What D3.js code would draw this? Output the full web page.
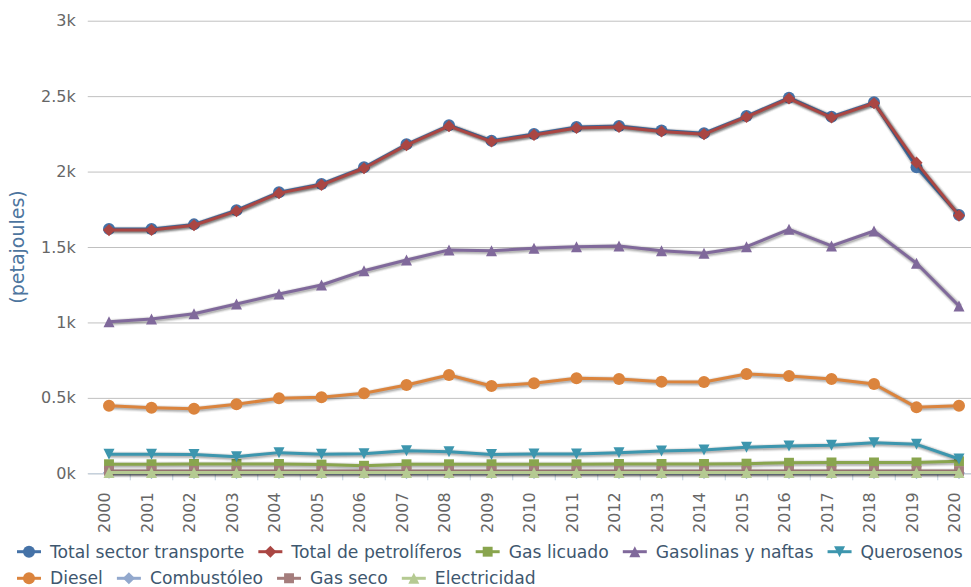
<!DOCTYPE html>
<html>
<head>
<meta charset="utf-8">
<script src="https://cdn.jsdelivr.net/npm/d3@7/dist/d3.min.js"></script>
<style>
  body { margin: 0; background: #fff; }
  svg { display: block; font-family: "DejaVu Sans", Verdana, sans-serif; }
</style>
</head>
<body>
<svg id="chart" width="971" height="587"></svg>
<script>
const years = ["2000", "2001", "2002", "2003", "2004", "2005", "2006", "2007", "2008", "2009", "2010",
  "2011", "2012", "2013", "2014", "2015", "2016", "2017", "2018", "2019", "2020"];

const yTicks = [0, 500, 1000, 1500, 2000, 2500, 3000];
const yTickLabels = ["0k", "0.5k", "1k", "1.5k", "2k", "2.5k", "3k"];

const totalTransporte = [1619, 1619, 1650, 1744, 1863, 1918, 2028, 2181, 2307, 2205, 2249, 2295, 2302, 2272, 2254, 2368, 2490, 2364, 2459, 2028, 1712];
const totalPetroliferos = [1612, 1613, 1644, 1738, 1857, 1912, 2022, 2175, 2301, 2199, 2243, 2289, 2296, 2266, 2248, 2362, 2484, 2358, 2453, 2059, 1708];
const gasLicuado = [60, 60, 62, 62, 62, 58, 50, 60, 60, 60, 60, 60, 62, 62, 62, 64, 70, 72, 72, 72, 80];
const gasolinas = [1005, 1023, 1058, 1122, 1188, 1248, 1343, 1414, 1480, 1475, 1491, 1502, 1507, 1475, 1458, 1502, 1617, 1507, 1606, 1392, 1109];
const querosenos = [126, 126, 125, 110, 137, 126, 130, 150, 143, 125, 128, 128, 137, 148, 155, 172, 181, 186, 203, 192, 95];
const diesel = [448, 435, 428, 457, 497, 504, 530, 585, 652, 579, 597, 630, 625, 607, 605, 658, 645, 625, 592, 437, 448];
const combustoleo = [4, 3, 3, 3, 3, 2, 2, 2, 2, 2, 2, 2, 2, 2, 2, 2, 2, 2, 2, 2, 2];
const gasSeco = [16, 16, 16, 16, 16, 16, 15, 15, 15, 15, 15, 15, 15, 15, 15, 15, 15, 15, 15, 15, 15];
const electricidad = [5, 5, 5, 5, 5, 5, 5, 5, 5, 5, 5, 5, 5, 5, 5, 5, 5, 5, 5, 5, 5];

const seriesNames = ["Total sector transporte", "Total de petrolíferos", "Gas licuado", "Gasolinas y naftas",
  "Querosenos", "Diesel", "Combustóleo", "Gas seco", "Electricidad"];
const seriesValues = [totalTransporte, totalPetroliferos, gasLicuado, gasolinas, querosenos, diesel,
  combustoleo, gasSeco, electricidad];
const colors = ["#4572A7", "#AA4643", "#89A54E", "#80699B", "#3D96AE", "#DB843D", "#92A8CD", "#A47D7C", "#B5CA92"];
const symbols = ["circle", "diamond", "square", "triangle", "triangle-down", "circle", "diamond", "square", "triangle"];

const series = seriesNames.map((name, i) => ({
  name: name,
  color: colors[i],
  symbol: symbols[i],
  values: seriesValues[i].map((v, j) => ({year: years[j], value: v})),
}));

const plot = {left: 87.75, right: 980.25, top: 20.7, bottom: 473.3};
const lineWidth = 3;
const radius = 5.5;

const svg = d3.select("#chart");

const x = d3.scaleBand().domain(years).range([plot.left, plot.right]);
const y = d3.scaleLinear().domain([0, 3000]).range([plot.bottom, plot.top]);
const cx = (d) => x(d.year) + x.bandwidth() / 2;

// highcharts-like marker shapes
function markerPath(type, px, py, r) {
  const x0 = px - r, y0 = py - r, w = 2 * r;
  if (type === "circle") {
    return `M${px - r},${py}a${r},${r} 0 1,0 ${w},0a${r},${r} 0 1,0 ${-w},0Z`;
  }
  if (type === "diamond") {
    const q = r * 1.1;
    return `M${px},${py - q}L${px + q},${py}L${px},${py + q}L${px - q},${py}Z`;
  }
  if (type === "square") {
    const s = r * 0.9;
    return `M${px - s},${py - s}h${2 * s}v${2 * s}h${-2 * s}Z`;
  }
  if (type === "triangle") {
    return `M${px},${y0}L${x0 + w},${y0 + w}L${x0},${y0 + w}Z`;
  }
  // triangle-down
  return `M${x0},${y0}L${x0 + w},${y0}L${px},${y0 + w}Z`;
}

// y axis with gridlines
const yAxis = svg.append("g")
  .attr("class", "y-axis")
  .attr("transform", `translate(${plot.left}, 0)`)
  .call(d3.axisLeft(y).tickValues(yTicks)
    .tickFormat((d, i) => yTickLabels[i])
    .tickSize(-(plot.right - plot.left))
    .tickPadding(12));
yAxis.select(".domain").remove();
yAxis.selectAll("line").attr("stroke", "#C0C0C0").attr("stroke-width", 1);
yAxis.selectAll("text")
  .attr("fill", "#666")
  .style("font-size", "16px")
  .style("font-family", "DejaVu Sans, sans-serif");

// x axis
const xAxis = svg.append("g")
  .attr("class", "x-axis")
  .attr("transform", `translate(0, ${plot.bottom})`)
  .call(d3.axisBottom(x).tickSize(0));
xAxis.select(".domain").attr("stroke", "#C0D0E0").attr("stroke-width", 1);
xAxis.selectAll("text")
  .attr("transform", "rotate(-90)")
  .attr("text-anchor", "end")
  .attr("x", -19)
  .attr("y", 1)
  .attr("dy", "0")
  .attr("fill", "#666")
  .style("font-size", "16px")
  .style("font-family", "DejaVu Sans, sans-serif");

svg.append("g")
  .selectAll("line")
  .data(years.slice(1))
  .join("line")
  .attr("x1", (d) => x(d))
  .attr("x2", (d) => x(d))
  .attr("y1", plot.bottom)
  .attr("y2", plot.bottom + 7)
  .attr("stroke", "#C0D0E0")
  .attr("stroke-width", 1);

// axis title
svg.append("text")
  .attr("transform", `translate(24, ${(plot.top + plot.bottom) / 2}) rotate(-90)`)
  .attr("text-anchor", "middle")
  .attr("fill", "#4d759e")
  .style("font-size", "19px")
  .text("(petajoules)");

// series
const line = d3.line().x(cx).y((d) => y(d.value));

const groups = svg.append("g")
  .selectAll("g")
  .data(series)
  .join("g");

[1, 2, 3].forEach((i) => {
  groups.append("path")
    .attr("d", (s) => line(s.values))
    .attr("fill", "none")
    .attr("stroke", "#000")
    .attr("stroke-opacity", 0.05 * i)
    .attr("stroke-width", lineWidth + 2 * (3 - i) + 1)
    .attr("stroke-linejoin", "round")
    .attr("transform", "translate(1,1)");
});

groups.append("path")
  .attr("d", (s) => line(s.values))
  .attr("fill", "none")
  .attr("stroke", (s) => s.color)
  .attr("stroke-width", lineWidth)
  .attr("stroke-linejoin", "round");

groups.selectAll(".marker")
  .data((s) => s.values.map((v) => ({...v, s: s})))
  .join("path")
  .attr("class", "marker")
  .attr("d", (d) => markerPath(d.s.symbol, cx(d), y(d.value), d.s.symbol === "circle" ? 6 : radius))
  .attr("fill", (d) => d.s.color);

// legend
const legendRows = [[0, 1, 2, 3, 4], [5, 6, 7, 8]];
const legendY = [551.7, 578.3];

legendRows.forEach((row, r) => {
  let itemX = 17;
  row.forEach((i) => {
    const s = series[i];
    const g = svg.append("g").attr("transform", `translate(${itemX}, ${legendY[r]})`);
    g.append("line")
      .attr("x1", 0).attr("x2", 24)
      .attr("y1", 0).attr("y2", 0)
      .attr("stroke", s.color)
      .attr("stroke-width", lineWidth);
    g.append("path")
      .attr("d", markerPath(s.symbol, 12, 0, s.symbol === "circle" ? 6 : radius))
      .attr("fill", s.color);
    const t = g.append("text")
      .attr("x", 33)
      .attr("y", 6)
      .attr("fill", "#3E576F")
      .style("font-size", "17.2px")
      .text(s.name);
    itemX += 33 + t.node().getComputedTextLength() + 14;
  });
});
</script>
</body>
</html>
